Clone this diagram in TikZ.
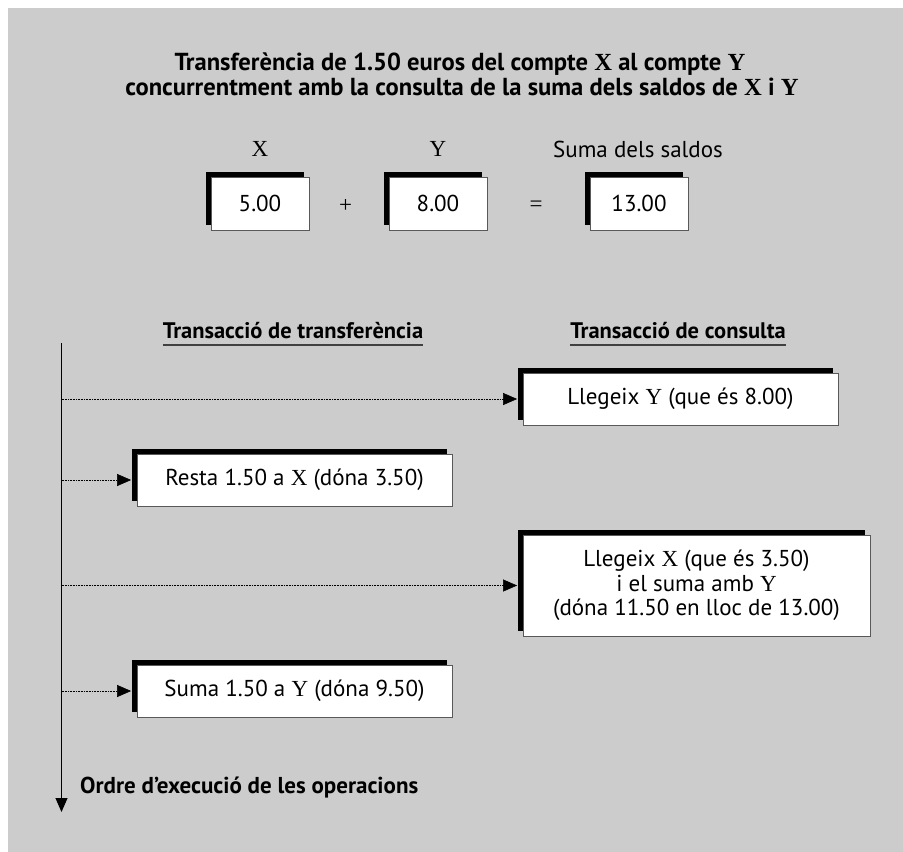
\documentclass[tikz,border=0pt]{standalone}
\usepackage{fontspec}
\setmainfont{PT Sans}
\newfontfamily\xyfont{Liberation Serif}
\usetikzlibrary{arrows.meta,shadows}
\definecolor{bggray}{HTML}{CCCCCC}
\newcommand{\vX}{{\xyfont X}}
\newcommand{\vY}{{\xyfont Y}}
\newcommand{\txtsize}{\fontsize{23}{24.5}\selectfont}
\tikzset{
  opbox/.style={draw=black!65, line width=0.8pt, fill=white, inner sep=0pt,
    minimum width=315pt, minimum height=52pt, align=center,
    general shadow={fill=black, shadow xshift=-5.5pt, shadow yshift=5.5pt}},
  valbox/.style={opbox, minimum width=98pt, minimum height=53pt},
  heading/.style={font=\fontsize{22.5}{24}\selectfont\bfseries, inner sep=0pt, anchor=base},
  titleline/.style={font=\fontsize{24.6}{24}\selectfont\bfseries, inner sep=0pt, anchor=base},
  uline/.style={line width=1.2pt, black!75},
  flow/.style={densely dotted, line width=0.6pt, -{Triangle[length=14pt,width=12pt]}},
}
\begin{document}
\begin{tikzpicture}[x=1pt, y=-1pt, every node/.style={font=\txtsize}]
  \useasboundingbox (0,0) rectangle (903,852);
  \fill[bggray] (8,8) rectangle (903,852);

  % title
  \node[titleline] (title1) at (460,70.5)
    {Transferència de 1.50 euros del compte \vX\ al compte \vY};
  \node[titleline] (title2) at (462,95)
    {concurrentment amb la consulta de la suma dels saldos de \vX\ i \vY};

  % values
  \node (lblx) at (260,149) {\vX};
  \node (lbly) at (438,149) {\vY};
  \node (lblsum) at (638,149) {Suma dels saldos};
  \node[valbox] (valx) at (260,203.5) {5.00};
  \node[valbox] (valy) at (438,203.5) {8.00};
  \node[valbox] (valsum) at (639,203.5) {13.00};
  \node (plus) at (345.5,206) {\xyfont +};
  \node (eq) at (536,206) {\xyfont =};

  % headings
  \node[heading] (hdtrans) at (293,338) {Transacció de transferència};
  \node[heading] (hdcons) at (678,338) {Transacció de consulta};
  \draw[uline] ([yshift=-7pt]hdtrans.base west) -- ([yshift=-7pt]hdtrans.base east);
  \draw[uline] ([yshift=-7pt]hdcons.base west) -- ([yshift=-7pt]hdcons.base east);

  % operations
  \node[opbox] (opready) at (680.5,399) {Llegeix \vY\ (que és 8.00)};
  \node[opbox] (opresta) at (294.5,480) {Resta 1.50 a \vX\ (dóna 3.50)};
  \node[opbox, minimum width=347pt, minimum height=101pt] (opreadx) at (696.5,585.5)
    {Llegeix \vX\ (que és 3.50)\\ i el suma amb \vY\\ (dóna 11.50 en lloc de 13.00)};
  \node[opbox] (opsuma) at (294.5,691) {Suma 1.50 a \vY\ (dóna 9.50)};

  % time axis
  \coordinate (axtop) at (61.5,343);
  \coordinate (axbot) at (61.5,812);
  \coordinate (t1) at (61.5,399);
  \coordinate (t2) at (61.5,480);
  \coordinate (t3) at (61.5,585.5);
  \coordinate (t4) at (61.5,691);
  \draw[line width=0.9pt, -{Triangle[length=14pt,width=12pt]}] (axtop) -- (axbot);
  \node[font=\fontsize{23}{24}\selectfont\bfseries, anchor=base west, inner sep=0pt] (order)
    at (80,793) {Ordre d’execució de les operacions};

  \begin{scope}[flow]
    \draw (t1) -- ([xshift=-5.5pt]opready.west);
    \draw (t2) -- ([xshift=-5.5pt]opresta.west);
    \draw (t3) -- ([xshift=-5.5pt]opreadx.west);
    \draw (t4) -- ([xshift=-5.5pt]opsuma.west);
  \end{scope}
\end{tikzpicture}
\end{document}
